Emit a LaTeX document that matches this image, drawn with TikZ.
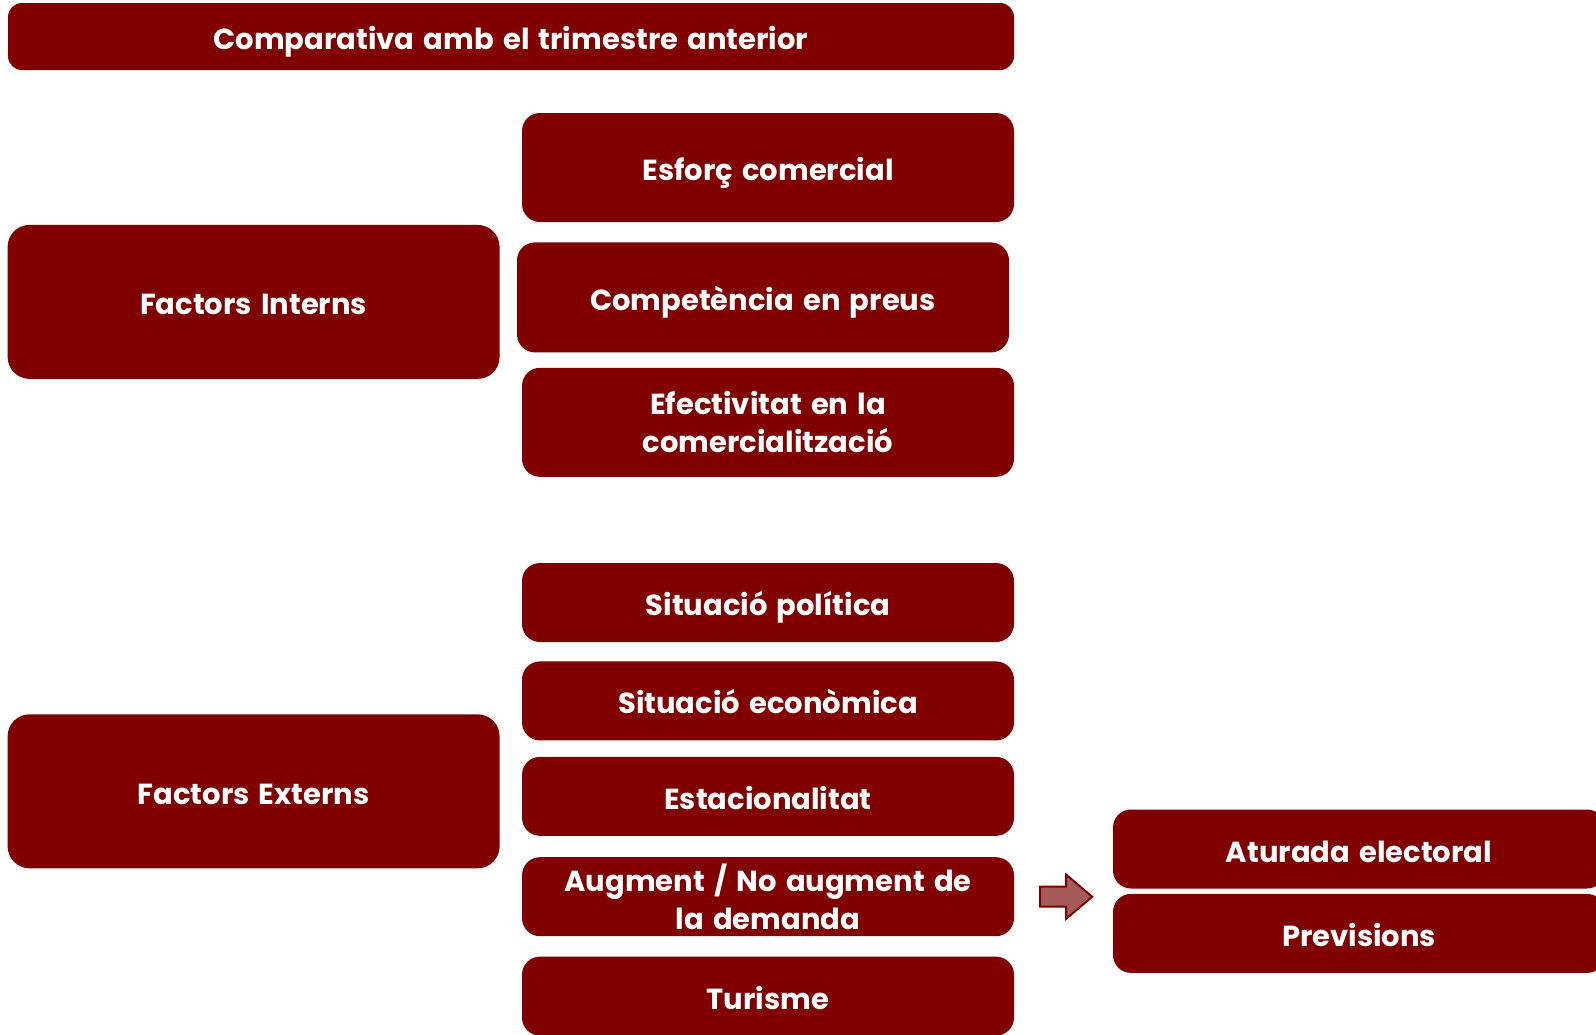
\documentclass[tikz,border=0pt]{standalone}
\usepackage{fontspec}
\setmainfont{Poppins}[WordSpace=1.5]
\usetikzlibrary{positioning}
\definecolor{granat}{HTML}{800000}
\definecolor{granatclar}{HTML}{A65A5A}

\begin{document}
\begin{tikzpicture}
    [x=1pt,y=-1pt,
    caixa/.style={rectangle,rounded corners=18pt,fill=granat,text=white,
        font=\bfseries\fontsize{29}{38}\selectfont,align=center,
        minimum width=492pt,minimum height=79pt,inner sep=0pt},
    linia/.style={text height=26pt,text depth=0pt},
    alta/.style={caixa,minimum height=109pt},
    factor/.style={caixa,linia,rounded corners=22pt,minimum height=154pt}]
    \useasboundingbox (0,0) rectangle (1596,1034);
    % titol
    \node[caixa,linia,rounded corners=14pt,minimum width=1006pt,minimum height=67pt] (titol) at (511,36.5) {Comparativa amb el trimestre anterior};
    % factors interns
    \node[alta,linia] (esforc) at (768,167.5) {Esfor\c{c} comercial};
    \node[alta,linia,minimum height=110pt,xshift=-5pt] (preus)[below=20pt of esforc]{Compet\`encia en preus};
    \node[alta,xshift=5pt] (efect)[below=15pt of preus]{Efectivitat en la\\comercialitzaci\'o};
    \node[factor,yshift=-4.5pt] (interns)[left=17pt of preus]{Factors Interns};
    % factors externs
    \node[caixa,linia] (politica) at (768,602.5) {Situaci\'o pol\'itica};
    \node[caixa,linia] (economica)[below=19pt of politica]{Situaci\'o econ\`omica};
    \node[caixa,linia] (estacio)[below=16pt of economica]{Estacionalitat};
    \node[caixa] (augment)[below=21pt of estacio]{Augment / No augment de\\la demanda};
    \node[caixa,linia] (turisme)[below=20pt of augment]{Turisme};
    \node[factor,yshift=5pt] (externs)[left=22pt of estacio]{Factors Externs};
    % conseqüencies
    \node[caixa,linia] (aturada) at (1359,849) {Aturada electoral};
    \node[caixa,linia] (previsions)[below=5pt of aturada]{Previsions};
    \coordinate[right=26pt of augment.east] (fletxa);
    \draw[granat,line width=2pt,fill=granatclar] (fletxa) ++(0,-10) -- ++(26,0) -- ++(0,-12)
        -- ++(26,22) -- ++(-26,22) -- ++(0,-12) -- ++(-26,0) -- cycle;
\end{tikzpicture}
\end{document}
